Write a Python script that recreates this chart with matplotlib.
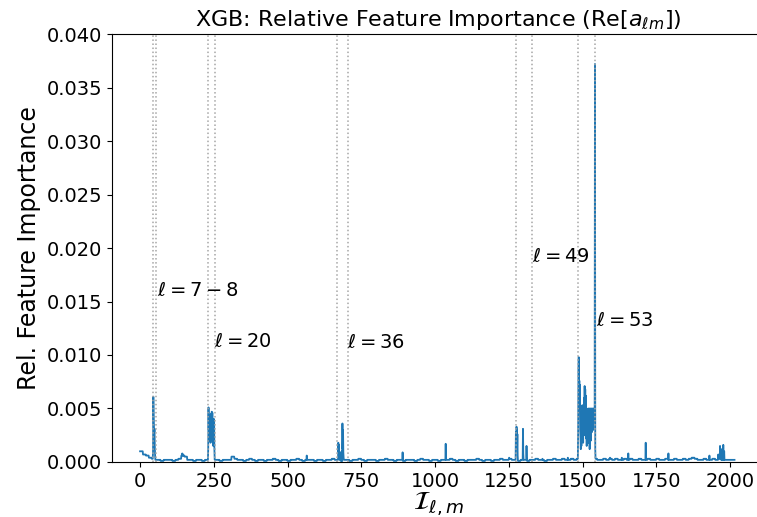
import numpy as np
import matplotlib

matplotlib.use("Agg")
import matplotlib.pyplot as plt

# number of (l, m) coefficients, index I_{l,m}
n_features = 2016

# background importance level, one value per block of 10 indices
block_size = 10
base_levels = [
    0.0010, 0.0007, 0.0006, 0.0004, 0.0003, 0.0002, 0.0002, 0.0001, 0.0002, 0.0002,
    0.0002, 0.0001, 0.0002, 0.0003, 0.0006, 0.0005, 0.0002, 0.0002, 0.0001, 0.0002,
    0.0002, 0.0001, 0.0002, 0.0002, 0.0002, 0.0002, 0.0002, 0.0001, 0.0002, 0.0002,
    0.0002, 0.0005, 0.0003, 0.0002, 0.0002, 0.0001, 0.0002, 0.0003, 0.0002, 0.0001,
    0.0002, 0.0002, 0.0001, 0.0002, 0.0002, 0.0003, 0.0002, 0.0001, 0.0002, 0.0002,
    0.0001, 0.0002, 0.0002, 0.0003, 0.0002, 0.0001, 0.0002, 0.0002, 0.0002, 0.0001,
    0.0002, 0.0002, 0.0001, 0.0002, 0.0002, 0.0003, 0.0002, 0.0002, 0.0001, 0.0002,
    0.0002, 0.0001, 0.0002, 0.0002, 0.0003, 0.0002, 0.0001, 0.0002, 0.0002, 0.0002,
    0.0001, 0.0002, 0.0002, 0.0003, 0.0002, 0.0002, 0.0001, 0.0002, 0.0002, 0.0001,
    0.0002, 0.0002, 0.0002, 0.0001, 0.0002, 0.0003, 0.0002, 0.0002, 0.0001, 0.0002,
    0.0002, 0.0001, 0.0002, 0.0002, 0.0002, 0.0003, 0.0002, 0.0001, 0.0002, 0.0002,
    0.0001, 0.0002, 0.0002, 0.0002, 0.0003, 0.0002, 0.0001, 0.0002, 0.0002, 0.0001,
    0.0002, 0.0002, 0.0003, 0.0002, 0.0002, 0.0003, 0.0002, 0.0002, 0.0001, 0.0002,
    0.0002, 0.0001, 0.0002, 0.0002, 0.0003, 0.0002, 0.0002, 0.0001, 0.0002, 0.0002,
    0.0003, 0.0002, 0.0002, 0.0003, 0.0002, 0.0002, 0.0003, 0.0002, 0.0003, 0.0004,
    0.0003, 0.0002, 0.0003, 0.0002, 0.0003, 0.0002, 0.0002, 0.0003, 0.0002, 0.0003,
    0.0002, 0.0003, 0.0002, 0.0002, 0.0003, 0.0002, 0.0003, 0.0002, 0.0002, 0.0003,
    0.0002, 0.0002, 0.0003, 0.0002, 0.0002, 0.0003, 0.0002, 0.0002, 0.0003, 0.0002,
    0.0002, 0.0003, 0.0002, 0.0002, 0.0003, 0.0002, 0.0003, 0.0004, 0.0003, 0.0002,
    0.0002, 0.0003, 0.0002, 0.0002, 0.0003, 0.0002, 0.0003, 0.0002, 0.0002, 0.0002,
    0.0002, 0.0002,
]

# individual coefficients standing out from the background
peak_index = [
    44, 45, 46, 47, 48, 49, 50, 51,
    140, 143, 146, 150,
    231, 232, 233, 234, 235, 236, 237, 238, 239, 240, 241, 242, 243, 244, 245,
    246, 247, 248, 249, 250, 251, 252,
    314, 565,
    672, 673, 674, 675, 676, 678, 680, 682, 684, 686, 687, 688, 689, 690,
    890, 1036, 1251,
    1274, 1275, 1276, 1277, 1278, 1279, 1280, 1298, 1299, 1310, 1311, 1364, 1403, 1450,
    1485, 1486, 1487, 1488, 1489, 1490, 1491, 1492, 1493, 1494, 1495, 1496, 1497,
    1498, 1499, 1500, 1501, 1502, 1503, 1504, 1505, 1506, 1507, 1508, 1509, 1510,
    1511, 1512, 1513, 1514, 1515, 1516, 1517, 1518, 1519, 1520, 1521, 1522, 1523,
    1524, 1525, 1526, 1527, 1528, 1529, 1530, 1531, 1532, 1533, 1534, 1535, 1536,
    1537, 1538, 1539, 1540, 1541, 1542, 1543,
    1593, 1633, 1655, 1714, 1791, 1930, 1960, 1966, 1968, 1972, 1977, 1980,
]
peak_value = [
    0.0010, 0.0061, 0.0042, 0.0031, 0.0028, 0.0031, 0.0015, 0.0006,
    0.0006, 0.0008, 0.0007, 0.0006,
    0.0012, 0.0051, 0.0030, 0.0044, 0.0020, 0.0038, 0.0025, 0.0040, 0.0018, 0.0035,
    0.0045, 0.0022, 0.0047, 0.0030, 0.0046, 0.0020, 0.0038, 0.0015, 0.0040,
    0.0025, 0.0040, 0.0012,
    0.0005, 0.0006,
    0.0018, 0.0010, 0.0016, 0.0008, 0.0009, 0.0007, 0.0009, 0.0008, 0.0010, 0.0036,
    0.0012, 0.0030, 0.0009, 0.0004,
    0.0009, 0.0017, 0.0004,
    0.0028, 0.0020, 0.0033, 0.0030, 0.0012, 0.0026, 0.0006, 0.0031, 0.0008, 0.0015,
    0.0005, 0.0003, 0.0003, 0.0004,
    0.0030, 0.0085, 0.0098, 0.0060, 0.0076, 0.0050, 0.0072, 0.0030, 0.0023, 0.0012,
    0.0023, 0.0015, 0.0030, 0.0020, 0.0053, 0.0025, 0.0040, 0.0018, 0.0053, 0.0035,
    0.0060, 0.0025, 0.0071, 0.0040, 0.0068, 0.0030, 0.0062, 0.0022, 0.0036, 0.0015,
    0.0034, 0.0020, 0.0036, 0.0025, 0.0050, 0.0018, 0.0048, 0.0030, 0.0050, 0.0012,
    0.0046, 0.0035, 0.0050, 0.0020, 0.0048, 0.0030, 0.0050, 0.0028, 0.0048, 0.0035,
    0.0050, 0.0030, 0.0046, 0.0038, 0.0050, 0.0044, 0.0050, 0.0372, 0.0012,
    0.0004, 0.0004, 0.0008, 0.0018, 0.0008, 0.0006, 0.0007, 0.0015, 0.0010, 0.0012,
    0.0016, 0.0010,
]

# boundaries of the highlighted multipoles and their labels
boundary_index = [44, 54, 231, 253, 667, 704, 1276, 1327, 1485, 1542]
label_text = [r"$\ell = 7-8$", r"$\ell = 20$", r"$\ell = 36$", r"$\ell = 49$", r"$\ell = 53$"]
label_x = [58, 251, 702, 1329, 1546]
label_y = [0.0160, 0.0113, 0.0112, 0.0192, 0.0132]

importance = np.repeat(base_levels, block_size)[:n_features]
importance[peak_index] = peak_value
feature_index = np.arange(n_features)

fig = plt.figure(figsize=(7.57, 5.17), dpi=100)
ax = fig.add_axes([0.148, 0.1064, 0.8632, 0.8278])

ax.plot(feature_index, importance, color="#1f77b4", lw=1.3)
for xv in boundary_index:
    ax.axvline(xv, color="0.65", ls=":", lw=1.1)
for text, xv, yv in zip(label_text, label_x, label_y):
    ax.text(xv, yv, text, fontsize=14, ha="left", va="center")

ax.set_xlim(-95, 2120)
ax.set_ylim(0, 0.04)
ax.set_xticks(np.arange(0, 2001, 250))
ax.tick_params(labelsize=14)
ax.set_title(r"XGB: Relative Feature Importance (Re[$a_{\ell m}$])", fontsize=16)
ax.set_ylabel("Rel. Feature Importance", fontsize=17)
ax.set_xlabel(r"$\mathcal{I}_{\ell,m}$", fontsize=19, labelpad=0)

fig.savefig("out.png", dpi=100)
